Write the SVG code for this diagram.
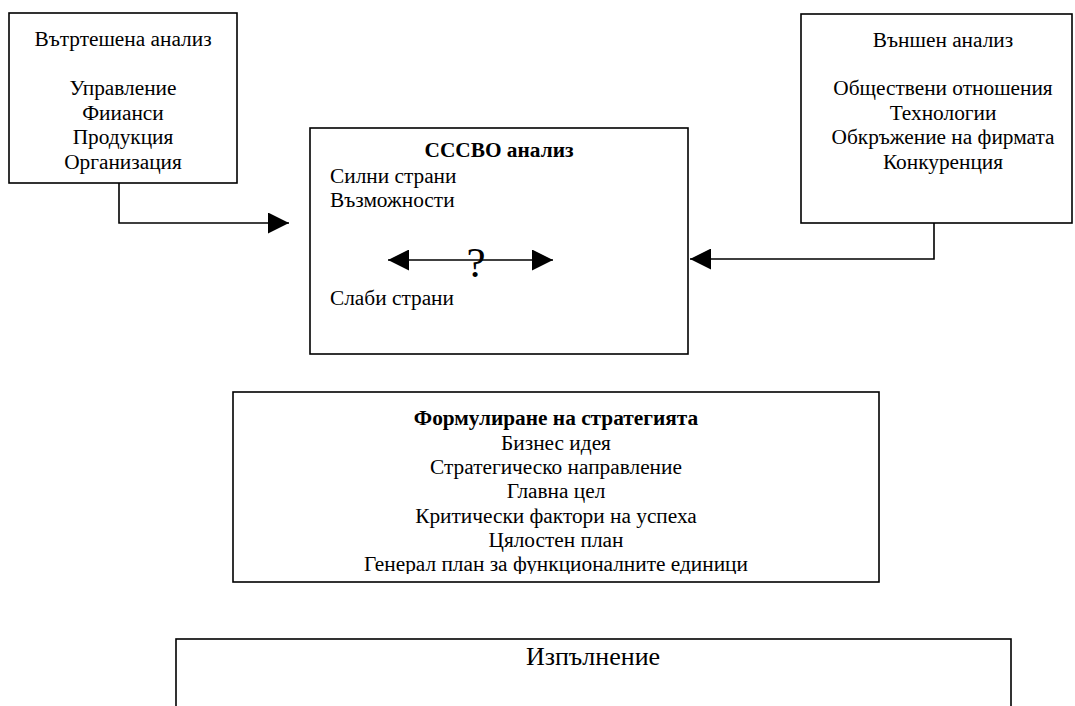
<svg xmlns="http://www.w3.org/2000/svg" width="1075" height="706" viewBox="0 0 1075 706">
<style>
.box{fill:#fff;stroke:#000;stroke-width:1.6}
.t{font-family:"Liberation Serif","Times New Roman",serif;font-size:21.33px;fill:#000}
.c{text-anchor:middle}
.b{font-weight:bold}
.ln{fill:none;stroke:#000;stroke-width:1.6}
</style>
<defs>
<marker id="ah" viewBox="0 0 10 10" refX="10" refY="5" markerWidth="21" markerHeight="21" markerUnits="userSpaceOnUse" orient="auto-start-reverse">
<path d="M0,0 L10,5 L0,10 z" fill="#000"/>
</marker>
<clipPath id="clipS"><rect x="233" y="392" width="646" height="182"/></clipPath>
</defs>
<rect width="1075" height="706" fill="#fff"/>
<g id="internal">
<rect class="box" x="9" y="13" width="228" height="170"/>
<text class="t c" x="123" y="46">Вътртешена анализ</text>
<text class="t c" x="123" y="95">Управление</text>
<text class="t c" x="123" y="119.5">Фиианси</text>
<text class="t c" x="123" y="144">Продукция</text>
<text class="t c" x="123" y="168.5">Организация</text>
</g>
<g id="external">
<rect class="box" x="801" y="14" width="271" height="209"/>
<text class="t c" x="943" y="47">Външен анализ</text>
<text class="t c" x="943" y="95">Обществени отношения</text>
<text class="t c" x="943" y="119.5">Технологии</text>
<text class="t c" x="943" y="144">Обкръжение на фирмата</text>
<text class="t c" x="943" y="168.5">Конкуренция</text>
</g>
<g id="swot">
<rect class="box" x="310" y="128" width="378" height="226"/>
<text class="t c b" x="499" y="157">СССВО анализ</text>
<text class="t" x="330" y="183">Силни страни</text>
<text class="t" x="330" y="207">Възможности</text>
<text class="t" x="330" y="305">Слаби страни</text>
<line class="ln" x1="388" y1="260" x2="553" y2="260" marker-start="url(#ah)" marker-end="url(#ah)"/>
<text class="t c" x="476" y="277" style="font-size:43px">?</text>
</g>
<g id="strategy">
<rect class="box" x="233" y="392" width="646" height="190"/>
<g clip-path="url(#clipS)">
<text class="t c b" x="556" y="425">Формулиране на стратегията</text>
<text class="t c" x="556" y="449.5">Бизнес идея</text>
<text class="t c" x="556" y="474">Стратегическо направление</text>
<text class="t c" x="556" y="498">Главна цел</text>
<text class="t c" x="556" y="522.5">Критически фактори на успеха</text>
<text class="t c" x="556" y="547">Цялостен план</text>
<text class="t c" x="556" y="571">Генерал план за функционалните единици</text>
</g>
</g>
<g id="execution">
<rect class="box" x="176" y="639" width="835" height="100"/>
<text class="t c" x="593" y="665" style="font-size:26px">Изпълнение</text>
</g>
<g id="connectors">
<polyline class="ln" points="119,183 119,223 289,223" marker-end="url(#ah)"/>
<polyline class="ln" points="934,223 934,259 690,259" marker-end="url(#ah)"/>
</g>
</svg>
